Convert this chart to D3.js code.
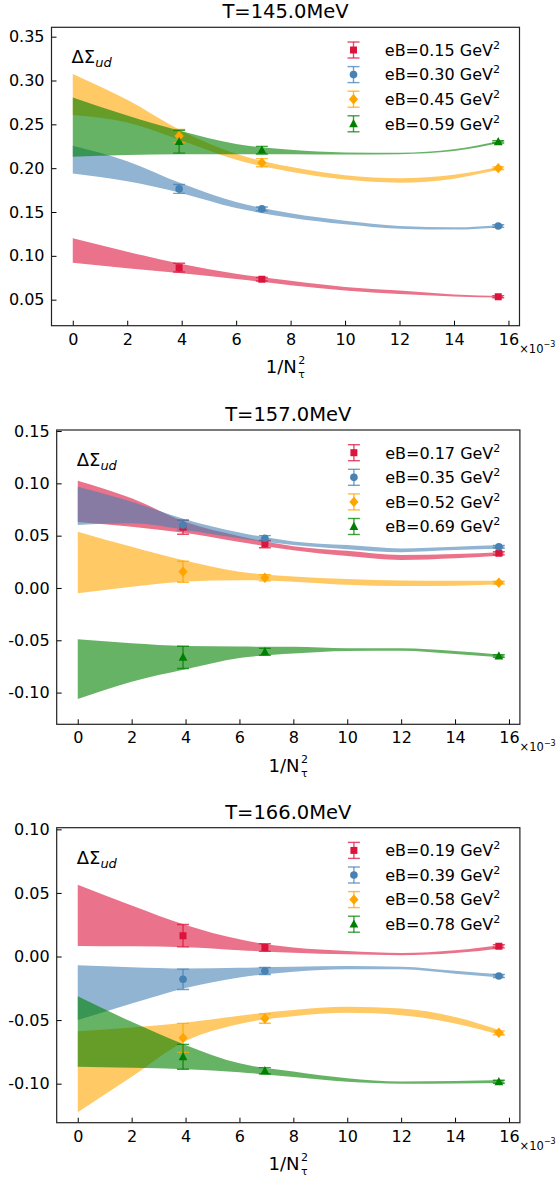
<!DOCTYPE html>
<html><head><meta charset="utf-8">
<script src="https://cdn.jsdelivr.net/npm/d3@7"></script>
<style>
body{margin:0;background:#fff}
svg{display:block}
text{font-family:"DejaVu Sans",sans-serif;fill:#000}
</style>
</head><body>
<svg id="c" width="556" height="1177"></svg>
<script>
// ---------- data ----------
const xPts = [3.906, 6.944, 15.625];           // 1/N_tau^2 (x 1e-3)
const bandX = [0, 2, 4, 6, 8, 10, 12, 14, 15.8];
const xTicks = [0, 2, 4, 6, 8, 10, 12, 14, 16];
const seriesColors = ["#dc143c", "#4682b4", "#ffa500", "#008000"];
const seriesMarkers = ["square", "circle", "diamond", "triangle"];
const titles = ["T=145.0MeV", "T=157.0MeV", "T=166.0MeV"];

// Panel 1: T=145 MeV
const eB1 = ["0.15", "0.30", "0.45", "0.59"];
const p1Ticks = [0.05, 0.10, 0.15, 0.20, 0.25, 0.30, 0.35];
const p1Val = [[0.0865, 0.0733, 0.0534], [0.1763, 0.1535, 0.1340], [0.2367, 0.2063, 0.2000], [0.2302, 0.2205, 0.2300]];
const p1Err = [[0.0050, 0.0020, 0.0012], [0.0050, 0.0022, 0.0015], [0.0076, 0.0046, 0.0015], [0.0130, 0.0044, 0.0012]];
const p1Lo = [
  [0.0920, 0.0858, 0.0800, 0.0735, 0.0665, 0.0605, 0.0565, 0.0537, 0.0524],
  [0.1940, 0.1850, 0.1715, 0.1545, 0.1435, 0.1360, 0.1310, 0.1300, 0.1330],
  [0.2607, 0.2520, 0.2315, 0.2095, 0.1960, 0.1870, 0.1835, 0.1880, 0.1995],
  [0.2131, 0.2150, 0.2160, 0.2160, 0.2160, 0.2155, 0.2160, 0.2195, 0.2298]];
const p1Hi = [
  [0.1200, 0.1048, 0.0906, 0.0795, 0.0715, 0.0645, 0.0605, 0.0560, 0.0542],
  [0.2257, 0.2080, 0.1825, 0.1615, 0.1485, 0.1400, 0.1340, 0.1325, 0.1355],
  [0.3075, 0.2780, 0.2425, 0.2165, 0.2015, 0.1920, 0.1885, 0.1925, 0.2025],
  [0.2805, 0.2600, 0.2420, 0.2275, 0.2210, 0.2180, 0.2175, 0.2215, 0.2318]];

// Panel 2: T=157 MeV
const eB2 = ["0.17", "0.35", "0.52", "0.69"];
const p2Ticks = [-0.10, -0.05, 0.00, 0.05, 0.10, 0.15];
const p2Val = [[0.0580, 0.0420, 0.0331], [0.0602, 0.0475, 0.0394], [0.0155, 0.0098, 0.0050], [-0.0663, -0.0610, -0.0650]];
const p2Err = [[0.0067, 0.0035, 0.0015], [0.0045, 0.0025, 0.0012], [0.0100, 0.0030, 0.0012], [0.0106, 0.0033, 0.0012]];
const p2Lo = [
  [0.0630, 0.0586, 0.0525, 0.0440, 0.0360, 0.0305, 0.0267, 0.0283, 0.0310],
  [0.0602, 0.0618, 0.0555, 0.0475, 0.0410, 0.0370, 0.0342, 0.0362, 0.0378],
  [-0.0051, 0.0012, 0.0063, 0.0075, 0.0060, 0.0030, 0.0018, 0.0022, 0.0035],
  [-0.1062, -0.0896, -0.0778, -0.0670, -0.0627, -0.0603, -0.0600, -0.0631, -0.0665]];
const p2Hi = [
  [0.1025, 0.0857, 0.0630, 0.0495, 0.0400, 0.0355, 0.0315, 0.0325, 0.0345],
  [0.0968, 0.0825, 0.0655, 0.0530, 0.0445, 0.0410, 0.0378, 0.0394, 0.0410],
  [0.0538, 0.0394, 0.0260, 0.0155, 0.0110, 0.0085, 0.0072, 0.0070, 0.0068],
  [-0.0491, -0.0529, -0.0555, -0.0560, -0.0562, -0.0577, -0.0577, -0.0603, -0.0640]];

// Panel 3: T=166 MeV
const eB3 = ["0.19", "0.39", "0.58", "0.78"];
const p3Ticks = [-0.10, -0.05, 0.00, 0.05, 0.10];
const p3Val = [[0.0164, 0.0070, 0.0080], [-0.0179, -0.0114, -0.0153], [-0.0640, -0.0488, -0.0600], [-0.0789, -0.0899, -0.0985]];
const p3Err = [[0.0088, 0.0030, 0.0012], [0.0080, 0.0028, 0.0012], [0.0114, 0.0037, 0.0015], [0.0098, 0.0025, 0.0012]];
const p3Lo = [
  [0.0083, 0.0080, 0.0073, 0.0050, 0.0030, 0.0017, 0.0010, 0.0027, 0.0065],
  [-0.0500, -0.0370, -0.0248, -0.0165, -0.0120, -0.0100, -0.0100, -0.0135, -0.0168],
  [-0.1225, -0.0946, -0.0665, -0.0530, -0.0470, -0.0443, -0.0461, -0.0527, -0.0625],
  [-0.0867, -0.0875, -0.0886, -0.0910, -0.0948, -0.0985, -0.1000, -0.0998, -0.0995]];
const p3Hi = [
  [0.0564, 0.0402, 0.0248, 0.0135, 0.0070, 0.0043, 0.0028, 0.0049, 0.0095],
  [-0.0069, -0.0085, -0.0095, -0.0088, -0.0080, -0.0075, -0.0080, -0.0112, -0.0142],
  [-0.0587, -0.0558, -0.0520, -0.0465, -0.0420, -0.0396, -0.0409, -0.0475, -0.0590],
  [-0.0312, -0.0514, -0.0695, -0.0840, -0.0905, -0.0958, -0.0983, -0.0980, -0.0972]];

// ---------- layout ----------
const xDomain = [-0.781, 16.406];
const panels = [
  {title: titles[0], eB: eB1, ticks: p1Ticks, val: p1Val, err: p1Err, lo: p1Lo, hi: p1Hi, yDom: [0.0203, 0.3607], box: [51.5, 27.3, 519.5, 325.7]},
  {title: titles[1], eB: eB2, ticks: p2Ticks, val: p2Val, err: p2Err, lo: p2Lo, hi: p2Hi, yDom: [-0.1303, 0.1510], box: [56.7, 430.0, 519.9, 724.3]},
  {title: titles[2], eB: eB3, ticks: p3Ticks, val: p3Val, err: p3Err, lo: p3Lo, hi: p3Hi, yDom: [-0.1307, 0.1013], box: [56.7, 827.7, 519.9, 1122.7]}
];

const markerPath = {
  square: "M-3.5,-3.5H3.5V3.5H-3.5Z",
  circle: d3.symbol(d3.symbolCircle, 46)(),
  diamond: "M0,-5.2L4.6,0L0,5.2L-4.6,0Z",
  triangle: "M0,-4.8L4.4,3.4L-4.4,3.4Z"
};
function fmtY(v) {
  if (Math.abs(v) < 1e-9) return "0.00";
  return (v < 0 ? "-" : "") + Math.abs(v).toFixed(2);
}

const svg = d3.select("#c");
svg.append("rect").attr("width", 556).attr("height", 1177).attr("fill", "#fff");

panels.forEach((p, pi) => {
  const [L, T, R, B] = p.box;
  const x = d3.scaleLinear().domain(xDomain).range([L, R]);
  const y = d3.scaleLinear().domain(p.yDom).range([B, T]);
  const g = svg.append("g");

  const clipId = "clip" + pi;
  svg.append("clipPath").attr("id", clipId).append("rect")
    .attr("x", L).attr("y", T).attr("width", R - L).attr("height", B - T);
  const plot = g.append("g").attr("clip-path", `url(#${clipId})`);

  // bands
  const area = d3.area().x(d => x(d.x)).y0(d => y(d.lo)).y1(d => y(d.hi)).curve(d3.curveMonotoneX);
  p.lo.forEach((lo, i) => {
    const data = bandX.map((bx, j) => ({x: bx, lo: lo[j], hi: p.hi[i][j]}));
    plot.append("path").datum(data).attr("d", area)
      .attr("fill", seriesColors[i]).attr("fill-opacity", 0.6).attr("stroke", "none");
  });

  // error bars + markers
  p.val.forEach((vals, i) => {
    const c = seriesColors[i];
    vals.forEach((v, j) => {
      const cx = x(xPts[j]), e = p.err[i][j];
      const y1 = y(v + e), y2 = y(v - e);
      const eg = plot.append("g").attr("stroke", c).attr("stroke-opacity", 0.75).attr("stroke-width", 1.4);
      eg.append("line").attr("x1", cx).attr("x2", cx).attr("y1", y1).attr("y2", y2);
      eg.append("line").attr("x1", cx - 6).attr("x2", cx + 6).attr("y1", y1).attr("y2", y1);
      eg.append("line").attr("x1", cx - 6).attr("x2", cx + 6).attr("y1", y2).attr("y2", y2);
    });
  });
  p.val.forEach((vals, i) => {
    vals.forEach((v, j) => {
      plot.append("path").attr("d", markerPath[seriesMarkers[i]])
        .attr("transform", `translate(${x(xPts[j])},${y(v)})`)
        .attr("fill", seriesColors[i]);
    });
  });

  // axes
  const ya = g.append("g").attr("transform", `translate(${L},0)`)
    .call(d3.axisLeft(y).tickValues(p.ticks).tickFormat(fmtY).tickSize(-5).tickPadding(7));
  const xa = g.append("g").attr("transform", `translate(0,${B})`)
    .call(d3.axisBottom(x).tickValues(xTicks).tickFormat(d3.format("d")).tickSize(-5).tickPadding(7.5));
  [ya, xa].forEach(a => {
    a.select(".domain").remove();
    a.attr("font-family", "DejaVu Sans").attr("font-size", 16);
    a.selectAll("line").attr("stroke", "#000").attr("stroke-width", 1);
    a.selectAll("text").attr("fill", "#000");
  });

  g.append("rect").attr("x", L).attr("y", T).attr("width", R - L).attr("height", B - T)
    .attr("fill", "none").attr("stroke", "#222").attr("stroke-width", 1.2);

  // title
  g.append("text").attr("x", (L + R) / 2).attr("y", T - 9).attr("text-anchor", "middle")
    .attr("font-size", 19.5).text(p.title);

  // Delta Sigma label
  const ds = g.append("text").attr("x", L + 20).attr("y", T + 36).attr("font-size", 18);
  ds.append("tspan").text("ΔΣ");
  ds.append("tspan").attr("font-style", "italic").attr("font-size", 13).attr("dy", 4).text("ud");

  // legend
  p.eB.forEach((lab, i) => {
    const ry = T + 22.7 + i * 24.6;
    const mx = R - 166;
    const c = seriesColors[i];
    const lg = g.append("g").attr("stroke", c).attr("stroke-opacity", 0.75).attr("stroke-width", 1.4);
    lg.append("line").attr("x1", mx).attr("x2", mx).attr("y1", ry - 8).attr("y2", ry + 8);
    lg.append("line").attr("x1", mx - 6).attr("x2", mx + 6).attr("y1", ry - 8).attr("y2", ry - 8);
    lg.append("line").attr("x1", mx - 6).attr("x2", mx + 6).attr("y1", ry + 8).attr("y2", ry + 8);
    g.append("path").attr("d", markerPath[seriesMarkers[i]])
      .attr("transform", `translate(${mx},${ry})`).attr("fill", c);
    const t = g.append("text").attr("x", R - 134.7).attr("y", ry + 5.8).attr("font-size", 16);
    t.append("tspan").text("eB=" + lab + " GeV");
    t.append("tspan").attr("font-size", 11).attr("dy", -7).text("2");
  });

  // x label 1/N_tau^2 (mathtext-like stacked super/subscript)
  const xl = g.append("g");
  const main = xl.append("text").attr("y", B + 47.5).attr("font-size", 18).text("1/N");
  const w = main.node().getComputedTextLength();
  const sup = xl.append("text").attr("x", w + 1.5).attr("y", B + 38.5).attr("font-size", 11).text("2");
  const sub = xl.append("text").attr("x", w + 1.5).attr("y", B + 52.5).attr("font-size", 11).text("τ");
  const tot = w + 1.5 + Math.max(sup.node().getComputedTextLength(), sub.node().getComputedTextLength());
  xl.attr("transform", `translate(${(L + R) / 2 - tot / 2},0)`);

  // offset text x10^-3 (placed just right of the "16" tick label)
  const ot = g.append("text").attr("x", R - 0.3).attr("y", B + 27).attr("font-size", 11.5);
  ot.append("tspan").text("×10");
  ot.append("tspan").attr("font-size", 8).attr("dy", -5.5).text("−3");
});
</script>
</body></html>
